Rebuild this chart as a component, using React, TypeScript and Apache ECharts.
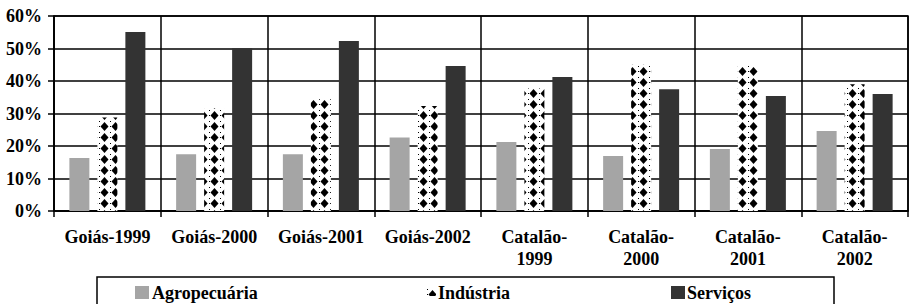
import React, { useEffect, useRef } from "react";
import * as echarts from "echarts";

const categories = [
  "Goiás-1999",
  "Goiás-2000",
  "Goiás-2001",
  "Goiás-2002",
  "Catalão-\n1999",
  "Catalão-\n2000",
  "Catalão-\n2001",
  "Catalão-\n2002",
];
const seriesNames = ["Agropecuária", "Indústria", "Serviços"];
const agropecuaria = [16.3, 17.5, 17.5, 22.6, 21.2, 16.9, 19.1, 24.6];
const industria = [28.8, 31.6, 34.4, 32.3, 37.7, 45.0, 44.9, 39.0];
const servicos = [55.1, 50.1, 52.3, 44.6, 41.2, 37.5, 35.4, 36.0];
const yTicks = [0, 10, 20, 30, 40, 50, 60];

const FONT = 'bold 18px "Liberation Serif"';

function makePattern(): HTMLCanvasElement {
  const c = document.createElement("canvas");
  const w = 11;
  const h = 11;
  c.width = w;
  c.height = h;
  const ctx = c.getContext("2d")!;
  ctx.fillStyle = "#ffffff";
  ctx.fillRect(0, 0, w, h);
  ctx.fillStyle = "#000000";
  ctx.beginPath();
  ctx.moveTo(5.5, 1);
  ctx.lineTo(9.5, 5.5);
  ctx.lineTo(5.5, 10);
  ctx.lineTo(1.5, 5.5);
  ctx.closePath();
  ctx.fill();
  ctx.fillRect(0, 5, 1, 1);
  ctx.fillRect(0, 0, 1, 1);
  return c;
}

function txt(text: string, x: number, y: number, align: string) {
  return {
    type: "text",
    x,
    y,
    silent: true,
    style: {
      text,
      font: FONT,
      fill: "#000",
      align,
      verticalAlign: "middle",
    },
  };
}

export default function App() {
  const ref = useRef<HTMLDivElement>(null);
  useEffect(() => {
    document.body.style.margin = "0";
    const chart = echarts.init(ref.current!, null, { renderer: "svg" });
    const pattern = makePattern();
    const legendBase = {
      top: 286,
      padding: 0,
      icon: "rect",
      itemWidth: 14,
      itemHeight: 13,
      formatter: () => "",
      selectedMode: false,
    };
    chart.setOption({
      animation: false,
      backgroundColor: "#ffffff",
      grid: {
        left: 54,
        right: 1,
        top: 16,
        bottom: 93,
        show: true,
        borderColor: "#000",
        borderWidth: 1.5,
      },
      legend: [
        { ...legendBase, left: 135, data: [seriesNames[0]] },
        { ...legendBase, left: 427, top: 289, itemWidth: 9, itemHeight: 7, data: [seriesNames[1]] },
        { ...legendBase, left: 671, data: [seriesNames[2]] },
      ],
      xAxis: {
        type: "category",
        data: categories,
        boundaryGap: true,
        axisLine: { show: true, lineStyle: { color: "#000", width: 1.5 } },
        axisTick: { show: true, length: 6, lineStyle: { color: "#000", width: 1.5 } },
        splitLine: { show: true, lineStyle: { color: "#000", width: 1.5 } },
        axisLabel: { show: false, interval: 0 },
      },
      yAxis: {
        type: "value",
        min: yTicks[0],
        max: yTicks[yTicks.length - 1],
        interval: 10,
        axisLine: { show: true, lineStyle: { color: "#000", width: 1.5 } },
        axisTick: { show: true, length: 6, lineStyle: { color: "#000", width: 1.5 } },
        splitLine: { show: true, lineStyle: { color: "#000", width: 1.5 } },
        axisLabel: { show: false },
      },
      series: [
        {
          name: seriesNames[0],
          type: "bar",
          data: agropecuaria,
          barWidth: 20,
          barGap: "40%",
          itemStyle: { color: "#a5a5a5" },
        },
        {
          name: seriesNames[1],
          type: "bar",
          data: industria,
          barWidth: 20,
          barGap: "40%",
          itemStyle: { color: { image: pattern, repeat: "repeat" } as any },
        },
        {
          name: seriesNames[2],
          type: "bar",
          data: servicos,
          barWidth: 20,
          barGap: "40%",
          itemStyle: { color: "#333333" },
        },
      ],
    });

    const graphics: any[] = [
      {
        type: "rect",
        shape: { x: 97, y: 277, width: 737, height: 40 },
        style: { fill: "none", stroke: "#000", lineWidth: 1.5 },
        z: -1,
      },
    ];
    const axisY = chart.convertToPixel({ yAxisIndex: 0 }, 0) as number;
    categories.forEach((c, i) => {
      const px = chart.convertToPixel({ xAxisIndex: 0 }, i) as number;
      c.split("\n").forEach((line, j) => {
        graphics.push(txt(line, px, axisY + 26 + j * 22, "center"));
      });
    });
    yTicks.forEach((v) => {
      const py = chart.convertToPixel({ yAxisIndex: 0 }, v) as number;
      graphics.push(txt(v + "%", 42, py, "right"));
    });
    graphics.push(txt(seriesNames[0], 152, 293, "left"));
    graphics.push(txt(seriesNames[1], 438, 293, "left"));
    graphics.push(txt(seriesNames[2], 687, 293, "left"));
    chart.setOption({ graphic: graphics });

    return () => chart.dispose();
  }, []);
  return <div ref={ref} style={{ width: 909, height: 304 }} />;
}
